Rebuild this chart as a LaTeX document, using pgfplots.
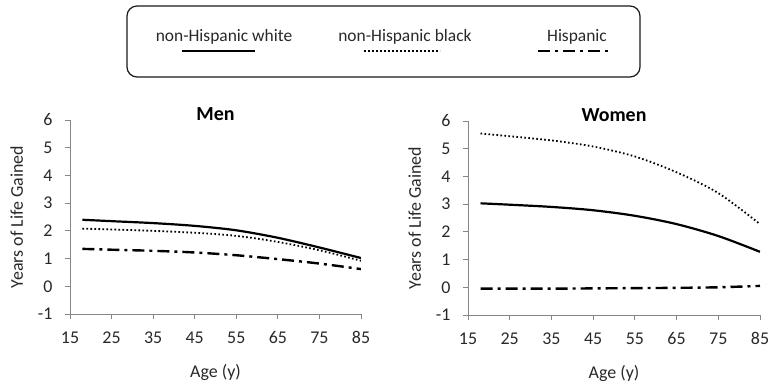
\documentclass[border=0pt]{standalone}
\usepackage{fontspec}
\setmainfont{Carlito}
\usepackage{pgfplots}
\pgfplotsset{compat=1.18}
\definecolor{axgray}{RGB}{134,134,134}
\definecolor{txt}{RGB}{40,40,40}
\pgfplotsset{
  common/.style={
    scale only axis, width=291bp, height=194bp,
    xmin=15, xmax=85, ymin=-1, ymax=6,
    xtick={15,25,...,85}, ytick={-1,0,...,6},
    axis lines*=left,
    axis line style={axgray, line width=0.9bp},
    tick style={axgray, line width=0.9bp},
    tick align=outside, major tick length=5bp,
    /pgf/number format/assume math mode=true,
    tick label style={font=\fontsize{18}{20}\selectfont, text=txt},
    xticklabel style={yshift=-9bp},
    yticklabel style={xshift=-9bp},
    xlabel={Age (y)}, ylabel={Years of Life Gained},
    label style={font=\fontsize{18}{20}\selectfont, text=txt},
    title style={font=\fontsize{20}{22}\selectfont\bfseries, text=black, yshift=-10bp},
    xlabel style={yshift=-14bp},
    ylabel style={yshift=8bp},
  },
  wh/.style={black, line width=2.2bp, smooth},
  bl/.style={black, line width=1.8bp, smooth, dash pattern=on 1.6bp off 2.4bp},
  hi/.style={black, line width=2.4bp, smooth, dash pattern=on 12bp off 5bp on 3bp off 5bp},
}
\begin{document}
\begin{tikzpicture}
\path[use as bounding box] (0bp,0bp) rectangle (773bp,386bp);
% legend
\draw[rounded corners=10bp, line width=1.2bp, black!90] (127bp,380bp) rectangle (640bp,309bp);
\node[font=\fontsize{17.5}{20}\selectfont, text=txt] at (224bp,349bp) {non-Hispanic white};
\node[font=\fontsize{17.5}{20}\selectfont, text=txt] at (405bp,349bp) {non-Hispanic black};
\node[font=\fontsize{17.5}{20}\selectfont, text=txt] at (577bp,349bp) {Hispanic};
\draw[black, line width=2.2bp] (182bp,335bp) -- (255bp,335bp);
\draw[black, line width=1.8bp, dash pattern=on 1.6bp off 2.4bp] (364bp,335bp) -- (440bp,335bp);
\draw[black, line width=2.4bp, dash pattern=on 12bp off 5bp on 3bp off 5bp] (538bp,335bp) -- (612bp,335bp);

\begin{axis}[common, at={(70bp,72bp)}, anchor=south west, title={Men}]
\addplot[wh] coordinates {(18,2.40) (25,2.35) (35,2.28) (45,2.18) (55,2.02) (65,1.75) (75,1.40) (85,1.02)};
\addplot[bl] coordinates {(18,2.08) (25,2.05) (35,2.00) (45,1.93) (55,1.82) (65,1.60) (75,1.30) (85,0.92)};
\addplot[hi] coordinates {(18,1.35) (25,1.32) (35,1.28) (45,1.22) (55,1.12) (65,0.98) (75,0.82) (85,0.62)};
\end{axis}

\begin{axis}[common, at={(468bp,71bp)}, anchor=south west, width=292bp, title={Women}]
\addplot[wh] coordinates {(18,3.03) (25,2.98) (35,2.90) (45,2.78) (55,2.58) (65,2.28) (75,1.85) (85,1.28)};
\addplot[bl] coordinates {(18,5.55) (25,5.45) (35,5.30) (45,5.08) (55,4.72) (65,4.15) (75,3.40) (85,2.28)};
\addplot[hi] coordinates {(18,-0.05) (25,-0.05) (35,-0.05) (45,-0.04) (55,-0.03) (65,-0.02) (75,0.00) (85,0.05)};
\end{axis}
\end{tikzpicture}
\end{document}
